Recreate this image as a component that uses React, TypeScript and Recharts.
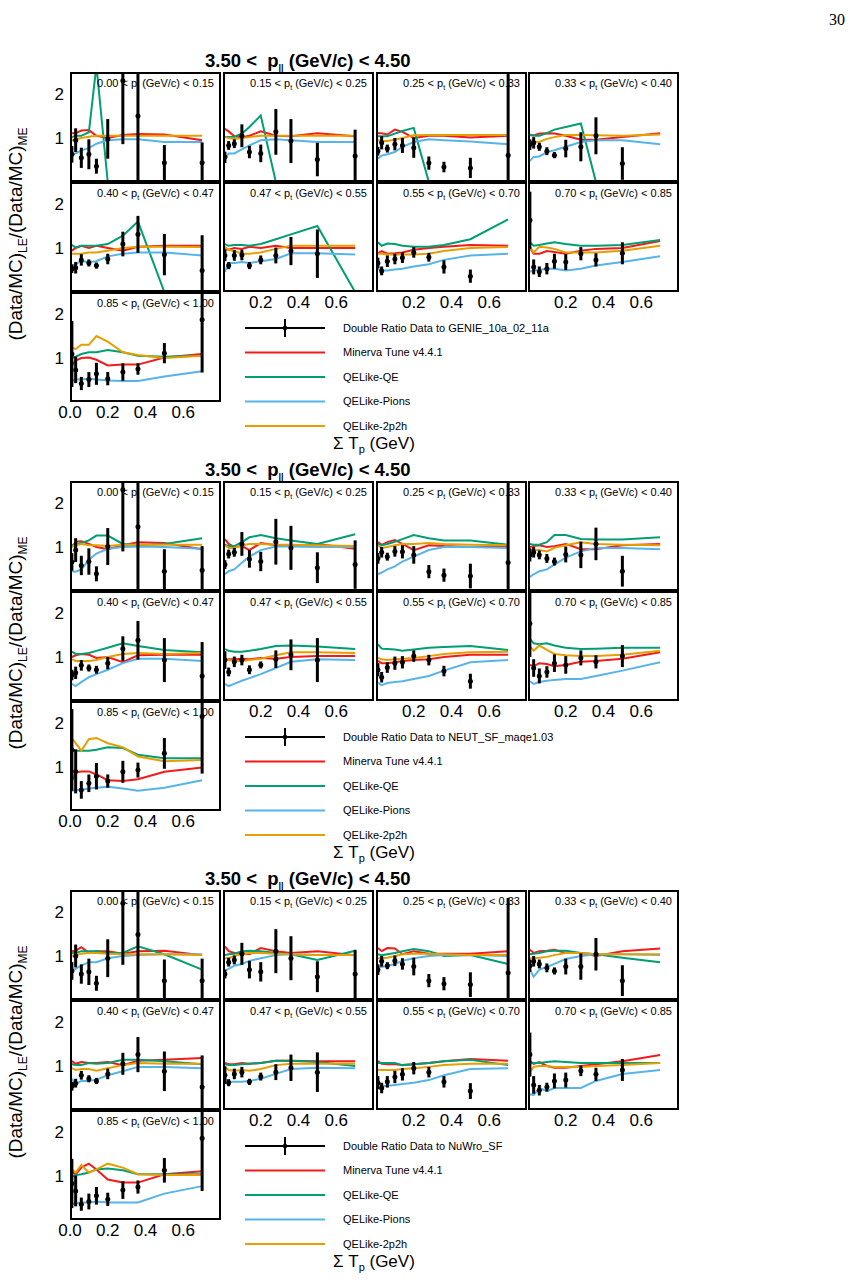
import { ComposedChart, Line, Scatter, ErrorBar, XAxis, YAxis } from 'recharts';

// bin centres in sum of proton kinetic energy (GeV)
const sumTp = [0.01, 0.03, 0.06, 0.1, 0.14, 0.2, 0.28, 0.36, 0.5, 0.7];
const ptEdges = ['0.00', '0.15', '0.25', '0.33', '0.40', '0.47', '0.55', '0.70', '0.85', '1.00'];
const generators = ['GENIE_10a_02_11a', 'NEUT_SF_maqe1.03', 'NuWro_SF'];
const modelNames = ['Minerva Tune v4.4.1', 'QELike-QE', 'QELike-Pions', 'QELike-2p2h'];
const yTickLabels = [1, 2];
const xTickLabels = [0.2, 0.4, 0.6];
const xTickLabelsFirst = [0, 0.2, 0.4, 0.6];
const xMinor = [0.1, 0.2, 0.3, 0.4, 0.5, 0.6, 0.7];
const yMinor = [0.5, 1, 1.5, 2];

// ---- GENIE_10a_02_11a ----
const genieRatio = [
  [0.63, 0.95, 0.55, 0.63, 0.36, 0.98, 2.3, 1.5, 0.44, 0.44],
  [0.56, 0.83, 0.87, 1.05, 0.68, 0.65, 1.14, 0.93, 0.51, 0.59],
  [0.7, 0.89, 0.76, 0.86, 0.83, 0.78, 0.43, 0.34, 0.32, 0.61],
  [0.85, 0.89, 0.8, 0.7, 0.61, 0.76, 0.8, 1.05, 0.42, null],
  [0.53, 0.55, 0.73, 0.66, 0.6, 0.75, 1.09, 1.31, 0.85, 0.49],
  [0.83, 0.6, 0.83, 0.84, 0.6, 0.73, 0.83, 0.93, 0.87, null],
  [0.66, 0.48, 0.7, 0.75, 0.78, 0.9, 0.79, 0.57, 0.36, null],
  [1.63, 0.57, 0.46, 0.53, 0.7, 0.68, 0.87, 0.73, 0.88, null],
  [1.09, 0.73, 0.42, 0.51, 0.64, 0.53, 0.68, 0.75, 1.11, 1.87],
];
const genieErr = [
  [0.19, 0.27, 0.23, 0.34, 0.17, 0.45, 1.44, 1.6, 0.4, 0.46],
  [0.13, 0.1, 0.1, 0.26, 0.14, 0.2, 0.52, 0.5, 0.38, 0.6],
  [0.1, 0.15, 0.09, 0.14, 0.17, 0.23, 0.15, 0.12, 0.23, 2.0],
  [0.12, 0.13, 0.09, 0.09, 0.07, 0.2, 0.33, 0.42, 0.37, null],
  [0.1, 0.13, 0.13, 0.08, 0.07, 0.12, 0.28, 0.42, 0.47, 0.8],
  [0.13, 0.08, 0.12, 0.12, 0.08, 0.1, 0.18, 0.32, 0.55, null],
  [0.12, 0.1, 0.13, 0.12, 0.12, 0.12, 0.1, 0.15, 0.15, null],
  [0.65, 0.17, 0.12, 0.13, 0.17, 0.18, 0.15, 0.15, 0.25, null],
  [0.75, 0.3, 0.15, 0.17, 0.25, 0.15, 0.2, 0.13, 0.23, 1.2],
];
const genieTune = [
  [1.11, 1.11, 1.17, 1.18, 1.05, 1.0, 1.07, 1.09, 1.08, 0.95],
  [1.21, 1.15, 1.04, 1.02, 1.05, 1.15, 1.05, 1.04, 1.11, 1.04],
  [1.11, 1.11, 1.08, 1.19, 1.14, 1.0, 1.05, 1.05, 1.01, 1.05],
  [1.06, 1.06, 1.1, 1.11, 1.1, 1.05, 0.96, 0.96, 1.02, 1.11],
  [0.94, 1.0, 1.05, 1.0, 1.05, 1.0, 0.94, 1.03, 1.05, 1.05],
  [0.98, 0.96, 1.0, 0.98, 1.03, 1.0, 1.05, 1.0, 1.0, 1.0],
  [0.88, 0.93, 0.87, 0.88, 0.9, 0.96, 1.0, 1.03, 1.07, 1.05],
  [1.01, 0.87, 0.87, 0.93, 0.91, 0.87, 0.94, 0.98, 1.0, 1.16],
  [0.83, 0.94, 1.0, 1.01, 0.96, 0.83, 0.85, 0.85, 1.01, 1.09],
];
const genieQE = [
  [1.02, 1.05, 1.05, 1.13, 2.65, 0, 0, 0, 0, 0],
  [1.02, 1.02, 1.03, 1.1, 1.25, 1.51, 0, 0, 0, 0],
  [1.04, 1.04, 1.04, 1.1, 1.16, 1.23, 0, 0, 0, 0],
  [1.08, 1.05, 1.05, 1.11, 1.19, 1.25, 1.33, 0, 0, 0],
  [1.07, 1.01, 1.05, 1.05, 1.05, 1.09, 1.28, 1.6, 0, 0],
  [1.09, 1.05, 1.07, 1.07, 1.05, 1.09, 1.2, 1.31, 1.5, 0],
  [1.13, 1.05, 1.1, 1.09, 1.05, 1.03, 1.03, 1.07, 1.2, 1.65],
  [1.13, 1.05, 1.07, 1.1, 1.13, 1.09, 1.05, 1.05, 1.07, 1.18],
  [1.01, 1.03, 1.09, 1.13, 1.13, 1.18, 1.13, 1.05, 1.03, 1.05],
];
const geniePions = [
  [0.61, 0.65, 0.72, 0.77, 0.87, 0.95, 0.97, 0.97, 0.91, 0.91],
  [0.53, 0.65, 0.65, 0.74, 0.83, 0.95, 0.97, 0.95, 0.91, 0.91],
  [0.53, 0.6, 0.63, 0.68, 0.8, 0.91, 0.97, 0.95, 0.92, 0.86],
  [0.48, 0.57, 0.58, 0.68, 0.72, 0.8, 0.91, 0.95, 0.95, 0.86],
  [0.57, 0.64, 0.7, 0.68, 0.7, 0.81, 0.87, 0.9, 0.9, 0.83],
  [0.46, 0.66, 0.66, 0.68, 0.66, 0.7, 0.75, 0.88, 0.88, 0.85],
  [0.53, 0.49, 0.49, 0.51, 0.53, 0.58, 0.63, 0.73, 0.83, 0.87],
  [0.46, 0.49, 0.5, 0.53, 0.53, 0.49, 0.53, 0.6, 0.68, 0.81],
  [0.49, 0.51, 0.51, 0.53, 0.51, 0.49, 0.48, 0.48, 0.58, 0.7],
];
const genie2p2h = [
  [0.95, 0.97, 1.0, 1.03, 1.05, 1.05, 1.05, 1.05, 1.05, 1.05],
  [1.02, 1.0, 0.98, 1.0, 1.02, 1.05, 1.05, 1.05, 1.05, 1.05],
  [0.95, 0.93, 0.93, 0.96, 1.0, 1.06, 1.07, 1.07, 1.07, 1.07],
  [0.91, 0.92, 0.91, 0.98, 1.02, 1.07, 1.07, 1.06, 1.05, 1.08],
  [0.87, 0.87, 0.87, 0.9, 0.9, 0.94, 1.0, 1.03, 1.03, 1.02],
  [1.03, 0.96, 0.93, 0.87, 0.87, 0.9, 0.98, 1.05, 1.05, 1.05],
  [0.87, 0.87, 0.85, 0.85, 0.85, 0.85, 0.87, 0.93, 1.0, 1.02],
  [1.03, 0.9, 1.03, 1.01, 0.98, 0.9, 0.9, 0.9, 0.94, 1.05],
  [1.24, 1.2, 1.3, 1.3, 1.5, 1.37, 1.13, 1.07, 1.0, 1.05],
];

// ---- NEUT_SF_maqe1.03 ----
const neutRatio = [
  [0.66, 0.93, 0.58, 0.67, 0.39, 1.01, 2.3, 1.46, 0.45, 0.47],
  [0.6, 0.84, 0.88, 1.07, 0.73, 0.67, 1.12, 0.98, 0.53, 0.6],
  [0.74, 0.88, 0.78, 0.9, 0.89, 0.82, 0.44, 0.36, 0.34, 0.65],
  [0.82, 0.88, 0.82, 0.74, 0.67, 0.83, 0.82, 1.07, 0.45, null],
  [0.59, 0.64, 0.81, 0.75, 0.71, 0.86, 1.19, 1.38, 0.93, 0.57],
  [0.93, 0.66, 0.89, 0.93, 0.71, 0.82, 0.95, 1.05, 0.93, null],
  [0.71, 0.54, 0.76, 0.86, 0.88, 1.02, 0.93, 0.68, 0.45, null],
  [1.76, 0.75, 0.57, 0.66, 0.86, 0.82, 0.98, 0.89, 1.02, null],
  [1.39, 0.9, 0.48, 0.63, 0.79, 0.68, 0.89, 0.93, 1.31, 2.15],
];
const neutErr = [
  [0.2, 0.27, 0.22, 0.3, 0.17, 0.42, 1.4, 1.6, 0.5, 0.55],
  [0.1, 0.1, 0.1, 0.27, 0.2, 0.22, 0.52, 0.5, 0.35, 0.55],
  [0.12, 0.12, 0.09, 0.12, 0.15, 0.2, 0.15, 0.15, 0.28, 1.9],
  [0.15, 0.12, 0.1, 0.1, 0.09, 0.18, 0.3, 0.37, 0.35, null],
  [0.12, 0.14, 0.12, 0.08, 0.09, 0.14, 0.28, 0.44, 0.5, 0.77],
  [0.2, 0.1, 0.12, 0.12, 0.1, 0.08, 0.2, 0.35, 0.5, null],
  [0.15, 0.12, 0.12, 0.15, 0.14, 0.13, 0.12, 0.12, 0.17, null],
  [0.76, 0.2, 0.17, 0.13, 0.2, 0.2, 0.17, 0.15, 0.25, null],
  [0.93, 0.5, 0.2, 0.2, 0.3, 0.15, 0.25, 0.17, 0.35, 1.3],
];
const neutTune = [
  [1.0, 1.12, 1.13, 1.07, 1.0, 0.95, 1.04, 1.11, 1.09, 0.95],
  [1.18, 1.07, 1.0, 1.02, 0.93, 1.09, 1.04, 1.02, 1.07, 0.96],
  [1.11, 1.05, 1.11, 1.16, 1.07, 0.93, 1.04, 1.02, 1.0, 1.0],
  [1.0, 1.02, 1.04, 1.0, 1.02, 1.07, 0.95, 0.95, 1.04, 1.07],
  [1.0, 1.04, 1.07, 1.05, 0.98, 1.0, 0.88, 1.04, 1.05, 1.05],
  [0.93, 0.95, 0.95, 0.96, 0.95, 0.98, 0.96, 1.0, 1.02, 1.02],
  [0.91, 0.86, 0.86, 0.88, 0.91, 0.93, 0.95, 1.0, 1.05, 1.05],
  [0.82, 0.79, 0.86, 0.84, 0.79, 0.82, 0.89, 0.91, 0.96, 1.11],
  [0.68, 0.88, 0.9, 0.9, 0.83, 0.7, 0.68, 0.72, 0.89, 0.99],
];
const neutQE = [
  [1.04, 1.05, 1.09, 1.15, 1.26, 1.26, 1.07, 1.04, 1.07, 1.2],
  [1.05, 1.02, 1.02, 1.11, 1.22, 1.27, 1.2, 1.15, 1.07, 1.29],
  [1.07, 1.04, 1.07, 1.12, 1.18, 1.27, 1.2, 1.15, 1.15, 1.05],
  [1.07, 1.05, 1.05, 1.11, 1.27, 1.27, 1.18, 1.17, 1.17, 1.22],
  [1.12, 1.07, 1.07, 1.09, 1.14, 1.21, 1.31, 1.25, 1.16, 1.11],
  [1.18, 1.14, 1.12, 1.12, 1.14, 1.18, 1.25, 1.26, 1.24, 1.18],
  [1.29, 1.19, 1.18, 1.17, 1.14, 1.17, 1.21, 1.23, 1.25, 1.16],
  [1.41, 1.31, 1.29, 1.31, 1.26, 1.21, 1.18, 1.19, 1.21, 1.21],
  [1.39, 1.37, 1.37, 1.37, 1.39, 1.45, 1.43, 1.28, 1.2, 1.2],
];
const neutPions = [
  [0.45, 0.44, 0.49, 0.71, 0.85, 0.96, 1.0, 1.01, 1.0, 0.96],
  [0.38, 0.45, 0.49, 0.64, 0.78, 0.93, 1.01, 1.01, 1.0, 1.0],
  [0.38, 0.42, 0.49, 0.56, 0.67, 0.78, 0.93, 1.0, 1.0, 0.98],
  [0.32, 0.38, 0.45, 0.49, 0.6, 0.76, 0.9, 0.98, 0.98, 0.95],
  [0.39, 0.34, 0.43, 0.54, 0.61, 0.71, 0.86, 0.96, 0.96, 0.91],
  [0.39, 0.34, 0.39, 0.46, 0.52, 0.61, 0.75, 0.89, 0.95, 0.93],
  [0.41, 0.36, 0.41, 0.43, 0.45, 0.5, 0.57, 0.69, 0.88, 0.93],
  [0.45, 0.39, 0.43, 0.46, 0.48, 0.5, 0.5, 0.57, 0.69, 0.88],
  [0.46, 0.48, 0.48, 0.51, 0.53, 0.55, 0.51, 0.46, 0.53, 0.7],
];
const neut2p2h = [
  [1.0, 1.04, 1.07, 1.04, 1.04, 1.02, 1.05, 1.05, 1.05, 1.05],
  [1.04, 0.98, 0.98, 1.04, 1.07, 1.07, 1.05, 1.05, 1.04, 1.02],
  [1.04, 0.98, 1.0, 1.04, 1.07, 1.07, 1.09, 1.07, 1.05, 1.04],
  [0.93, 0.93, 0.93, 0.9, 0.98, 1.04, 1.11, 1.07, 1.05, 1.04],
  [0.95, 0.91, 0.91, 0.91, 0.93, 1.0, 1.07, 1.09, 1.07, 1.09],
  [0.98, 0.93, 0.91, 0.91, 0.93, 0.96, 1.04, 1.11, 1.11, 1.09],
  [0.98, 0.95, 0.93, 0.95, 0.96, 0.98, 1.02, 1.07, 1.11, 1.12],
  [1.25, 1.14, 1.26, 1.16, 1.07, 1.04, 1.02, 1.02, 1.05, 1.14],
  [1.65, 1.54, 1.37, 1.63, 1.66, 1.54, 1.45, 1.24, 1.13, 1.16],
];

// ---- NuWro_SF ----
const nuwroRatio = [
  [0.66, 1.0, 0.59, 0.64, 0.38, 0.95, 2.2, 1.49, 0.44, 0.44],
  [0.59, 0.86, 0.91, 1.05, 0.69, 0.64, 1.11, 0.95, 0.53, 0.59],
  [0.69, 0.88, 0.78, 0.89, 0.82, 0.76, 0.44, 0.37, 0.35, 0.62],
  [0.78, 0.88, 0.82, 0.73, 0.66, 0.76, 0.76, 1.04, 0.44, null],
  [0.54, 0.61, 0.79, 0.71, 0.66, 0.82, 1.05, 1.26, 0.88, 0.52],
  [0.79, 0.62, 0.82, 0.86, 0.64, 0.76, 0.86, 0.96, 0.86, null],
  [0.62, 0.5, 0.64, 0.75, 0.81, 0.95, 0.86, 0.64, 0.43, null],
  [1.26, 0.57, 0.45, 0.52, 0.66, 0.68, 0.89, 0.81, 0.91, null],
  [0.83, 0.66, 0.36, 0.42, 0.55, 0.47, 0.68, 0.75, 1.13, 1.86],
];
const nuwroErr = [
  [0.2, 0.26, 0.22, 0.3, 0.17, 0.43, 1.4, 1.6, 0.48, 0.5],
  [0.1, 0.1, 0.1, 0.25, 0.2, 0.22, 0.5, 0.5, 0.35, 0.55],
  [0.12, 0.12, 0.08, 0.12, 0.13, 0.2, 0.15, 0.15, 0.28, 1.7],
  [0.14, 0.12, 0.1, 0.1, 0.08, 0.18, 0.3, 0.37, 0.35, null],
  [0.1, 0.1, 0.1, 0.08, 0.07, 0.12, 0.25, 0.4, 0.45, 0.72],
  [0.2, 0.08, 0.12, 0.12, 0.07, 0.09, 0.18, 0.3, 0.45, null],
  [0.15, 0.12, 0.13, 0.14, 0.14, 0.14, 0.12, 0.13, 0.18, null],
  [0.5, 0.2, 0.12, 0.1, 0.17, 0.17, 0.12, 0.15, 0.25, null],
  [0.56, 0.35, 0.15, 0.18, 0.2, 0.15, 0.2, 0.15, 0.28, 1.2],
];
const nuwroTune = [
  [1.11, 1.12, 1.2, 1.07, 1.11, 1.11, 1.05, 1.11, 1.12, 1.02],
  [1.22, 1.11, 1.07, 1.07, 1.04, 1.18, 1.11, 1.07, 1.11, 1.02],
  [1.18, 1.11, 1.18, 1.17, 1.04, 1.11, 1.05, 1.05, 1.05, 1.11],
  [1.14, 1.07, 1.11, 1.12, 1.14, 1.07, 1.07, 1.0, 1.11, 1.17],
  [1.11, 1.05, 1.09, 1.07, 1.07, 1.09, 1.02, 1.12, 1.14, 1.18],
  [1.07, 1.04, 1.04, 1.07, 1.05, 1.07, 1.12, 1.12, 1.11, 1.11],
  [1.11, 1.05, 1.04, 1.04, 1.02, 1.04, 1.07, 1.11, 1.16, 1.12],
  [1.11, 1.05, 1.09, 1.0, 0.96, 0.96, 1.0, 1.04, 1.11, 1.25],
  [1.11, 1.04, 1.19, 1.28, 1.15, 0.92, 0.85, 0.85, 1.04, 1.11],
];
const nuwroQE = [
  [1.07, 1.07, 1.11, 1.11, 1.11, 1.07, 1.07, 1.22, 1.04, 0.69],
  [1.02, 1.04, 1.05, 1.11, 1.12, 1.11, 1.07, 1.04, 0.91, 1.12],
  [1.04, 1.02, 1.04, 1.07, 1.11, 1.16, 1.11, 1.0, 1.02, 0.82],
  [1.04, 1.05, 1.07, 1.11, 1.12, 1.12, 1.07, 1.04, 0.96, 0.86],
  [1.04, 1.02, 1.02, 1.07, 1.05, 1.07, 1.14, 1.14, 1.11, 1.04],
  [1.04, 1.02, 1.02, 1.04, 1.05, 1.07, 1.12, 1.12, 1.09, 1.0],
  [1.07, 1.07, 1.07, 1.07, 1.02, 1.04, 1.07, 1.11, 1.14, 1.02],
  [1.07, 1.07, 1.07, 1.09, 1.11, 1.09, 1.07, 1.07, 1.07, 1.07],
  [0.98, 1.02, 1.04, 1.08, 1.15, 1.17, 1.13, 1.04, 1.04, 1.04],
];
const nuwroPions = [
  [0.67, 0.71, 0.78, 0.86, 0.86, 0.95, 1.0, 1.02, 1.04, 1.04],
  [0.66, 0.71, 0.78, 0.82, 0.89, 0.95, 1.02, 1.04, 1.02, 1.02],
  [0.76, 0.75, 0.78, 0.82, 0.89, 0.95, 1.0, 1.02, 1.02, 1.0],
  [0.69, 0.53, 0.69, 0.75, 0.82, 0.93, 1.0, 1.04, 1.04, 1.02],
  [0.71, 0.59, 0.66, 0.66, 0.69, 0.79, 0.88, 0.98, 0.98, 0.95],
  [0.71, 0.64, 0.64, 0.64, 0.66, 0.71, 0.82, 0.93, 0.96, 0.95],
  [0.66, 0.54, 0.55, 0.57, 0.59, 0.62, 0.68, 0.79, 0.93, 0.95],
  [0.36, 0.34, 0.5, 0.43, 0.5, 0.5, 0.5, 0.66, 0.82, 0.91],
  [0.36, 0.38, 0.4, 0.4, 0.42, 0.4, 0.4, 0.4, 0.6, 0.77],
];
const nuwro2p2h = [
  [1.0, 1.02, 1.05, 1.07, 1.07, 1.05, 1.04, 1.04, 1.04, 1.02],
  [0.95, 0.95, 1.0, 1.05, 1.07, 1.07, 1.05, 1.04, 1.02, 1.02],
  [0.95, 0.95, 0.96, 1.0, 1.04, 1.05, 1.05, 1.04, 1.02, 1.02],
  [0.95, 0.95, 0.96, 0.98, 1.02, 1.07, 1.07, 1.04, 1.04, 1.04],
  [0.95, 0.91, 0.93, 0.93, 0.89, 0.95, 1.02, 1.07, 1.05, 1.05],
  [0.98, 0.91, 0.89, 0.91, 0.89, 0.93, 1.02, 1.05, 1.05, 1.05],
  [0.91, 0.91, 0.91, 0.91, 0.93, 0.95, 0.98, 1.02, 1.05, 1.05],
  [0.86, 0.98, 1.0, 1.0, 0.98, 0.98, 0.98, 1.0, 1.02, 1.07],
  [1.15, 1.08, 1.25, 1.08, 1.15, 1.28, 1.19, 1.04, 1.02, 1.02],
];

const blocks = [
  { ratio: genieRatio, err: genieErr, tune: genieTune, qe: genieQE, pions: geniePions, np: genie2p2h },
  { ratio: neutRatio, err: neutErr, tune: neutTune, qe: neutQE, pions: neutPions, np: neut2p2h },
  { ratio: nuwroRatio, err: nuwroErr, tune: nuwroTune, qe: nuwroQE, pions: nuwroPions, np: nuwro2p2h },
];

const RED = '#f51a1a';
const GREEN = '#009e73';
const BLUE = '#56b4e9';
const ORANGE = '#e69f00';
const modelColors = [RED, GREEN, BLUE, ORANGE];
const FONT = '"Liberation Sans", Arial, Helvetica, sans-serif';

const PW = 151;
const PH = 110;
const COLS = [70, 223, 376, 528];
const TOP0 = 72;
const BLOCK_STEP = 409;

const sub = (s: string, size = 7, drop = 3) => (
  <span style={{ fontSize: size, position: 'relative', top: drop, color: '#000' }}>{s}</span>
);

const dataDot = (props: any) => <circle cx={props.cx} cy={props.cy} r={2.5} fill="#000" />;

type PanelProps = {
  left: number;
  top: number;
  bin: number;
  ratio: (number | null)[];
  err: (number | null)[];
  tune: number[];
  qe: number[];
  pions: number[];
  np: number[];
  showY: boolean;
  xLabels?: number[];
};

function Panel({ left, top, bin, ratio, err, tune, qe, pions, np, showY, xLabels }: PanelProps) {
  const padL = showY ? 26 : 0;
  const padB = xLabels ? 26 : 0;
  const rows = sumTp.map((x, i) => ({ x, tune: tune[i], qe: qe[i], pions: pions[i], np: np[i] }));
  const pts = sumTp
    .map((x, i) => ({ x, y: ratio[i], err: err[i] }))
    .filter((p) => p.y != null);

  return (
    <>
      <div style={{ position: 'absolute', left: left - padL, top }}>
        <ComposedChart
          width={PW + padL}
          height={PH + padB}
          data={rows}
          margin={{ top: 0, right: 0, bottom: 0, left: 0 }}
        >
          <XAxis
            xAxisId="v"
            type="number"
            dataKey="x"
            domain={[0, 0.8]}
            allowDataOverflow
            ticks={xMinor}
            mirror
            height={0}
            tick={false}
            axisLine={false}
            tickSize={4}
            tickLine={{ stroke: '#000' }}
          />
          {xLabels && (
            <XAxis
              xAxisId="lab"
              type="number"
              dataKey="x"
              domain={[0, 0.8]}
              allowDataOverflow
              ticks={xLabels}
              interval={0}
              height={padB}
              tickLine={false}
              axisLine={false}
              tickSize={0}
              tickMargin={4}
              tickFormatter={(v: number) => v.toFixed(1)}
              tick={{ fontSize: 17, fill: '#000', fontFamily: FONT }}
            />
          )}
          <YAxis
            yAxisId="v"
            type="number"
            domain={[0, 2.5]}
            allowDataOverflow
            ticks={yMinor}
            mirror
            width={0}
            tick={false}
            axisLine={false}
            tickSize={5}
            tickLine={{ stroke: '#000' }}
          />
          {showY && (
            <YAxis
              yAxisId="lab"
              type="number"
              domain={[0, 2.5]}
              allowDataOverflow
              ticks={yTickLabels}
              interval={0}
              width={padL}
              tickLine={false}
              axisLine={false}
              tickSize={0}
              tickMargin={6}
              tick={{ fontSize: 17, fill: '#000', fontFamily: FONT }}
            />
          )}
          <Line xAxisId="v" yAxisId="v" dataKey="tune" stroke={RED} strokeWidth={2} dot={false} isAnimationActive={false} />
          <Line xAxisId="v" yAxisId="v" dataKey="qe" stroke={GREEN} strokeWidth={2} dot={false} isAnimationActive={false} />
          <Line xAxisId="v" yAxisId="v" dataKey="pions" stroke={BLUE} strokeWidth={2} dot={false} isAnimationActive={false} />
          <Line xAxisId="v" yAxisId="v" dataKey="np" stroke={ORANGE} strokeWidth={2} dot={false} isAnimationActive={false} />
          <Scatter xAxisId="v" yAxisId="v" data={pts} dataKey="y" shape={dataDot} isAnimationActive={false}>
            <ErrorBar dataKey="err" direction="y" width={0} stroke="#000" strokeWidth={3} />
          </Scatter>
        </ComposedChart>
      </div>
      <div
        style={{
          position: 'absolute',
          left,
          top,
          width: PW,
          height: PH,
          border: '2px solid #000',
          boxSizing: 'border-box',
          pointerEvents: 'none',
        }}
      />
      <div
        style={{
          position: 'absolute',
          left,
          top: top + 5,
          width: PW - 7,
          textAlign: 'right',
          fontSize: 11,
          lineHeight: '12px',
          whiteSpace: 'nowrap',
        }}
      >
        {ptEdges[bin]} &lt; p{sub('t')} (GeV/c) &lt; {ptEdges[bin + 1]}
      </div>
    </>
  );
}

function BlockLegend({ top, generator }: { top: number; generator: string }) {
  const step = 24.5;
  return (
    <svg style={{ position: 'absolute', left: 240, top: top - 12 }} width={340} height={125} fontFamily={FONT}>
      <line x1={5} x2={85} y1={12} y2={12} stroke="#000" strokeWidth={2} />
      <line x1={45} x2={45} y1={3} y2={21} stroke="#000" strokeWidth={2} />
      <circle cx={45} cy={12} r={2.3} fill="#000" />
      <text x={103} y={12} dy="0.35em" fontSize={11} fill="#000">
        Double Ratio Data to {generator}
      </text>
      {modelNames.map((name, i) => (
        <g key={name}>
          <line x1={5} x2={85} y1={12 + step * (i + 1)} y2={12 + step * (i + 1)} stroke={modelColors[i]} strokeWidth={2} />
          <text x={103} y={12 + step * (i + 1)} dy="0.35em" fontSize={11} fill="#000">
            {name}
          </text>
        </g>
      ))}
    </svg>
  );
}

function Block({ index }: { index: number }) {
  const b = blocks[index];
  const top0 = TOP0 + index * BLOCK_STEP;
  return (
    <>
      <div
        style={{
          position: 'absolute',
          left: 205,
          top: top0 - 22,
          fontSize: 18.5,
          fontWeight: 'bold',
          lineHeight: '21px',
          whiteSpace: 'pre',
        }}
      >
        {'3.50 <  p'}
        {sub('||', 9, 4)}
        {' (GeV/c) < 4.50'}
      </div>
      <div
        style={{
          position: 'absolute',
          left: 16 - 150,
          top: top0 + 162 - 12,
          width: 300,
          height: 24,
          lineHeight: '24px',
          fontSize: 19,
          textAlign: 'center',
          transform: 'rotate(-90deg)',
          whiteSpace: 'nowrap',
        }}
      >
        (Data/MC){sub('LE', 12, 5)}/(Data/MC){sub('ME', 12, 5)}
      </div>
      {b.ratio.map((_, k) => {
        const row = Math.floor(k / 4);
        const col = k % 4;
        const isLast = k === 8;
        const bottomRow = isLast || (row === 1 && col > 0);
        return (
          <Panel
            key={k}
            left={COLS[col]}
            top={top0 + row * PH}
            bin={k}
            ratio={b.ratio[k]}
            err={b.err[k]}
            tune={b.tune[k]}
            qe={b.qe[k]}
            pions={b.pions[k]}
            np={b.np[k]}
            showY={col === 0}
            xLabels={bottomRow ? (isLast ? xTickLabelsFirst : xTickLabels) : undefined}
          />
        );
      })}
      <BlockLegend top={top0 + 256} generator={generators[index]} />
      <div
        style={{
          position: 'absolute',
          left: 333,
          top: top0 + 362,
          fontSize: 17,
          lineHeight: '20px',
          whiteSpace: 'nowrap',
        }}
      >
        Σ T{sub('p', 11, 4)} (GeV)
      </div>
    </>
  );
}

export default function App() {
  return (
    <div
      style={{
        position: 'absolute',
        left: 0,
        top: 0,
        width: 858,
        height: 1280,
        background: '#fff',
        fontFamily: FONT,
        color: '#000',
      }}
    >
      <div
        style={{
          position: 'absolute',
          left: 829,
          top: 11,
          fontSize: 16,
          fontFamily: '"Liberation Serif", "DejaVu Serif", serif',
        }}
      >
        30
      </div>
      {blocks.map((_, i) => (
        <Block key={i} index={i} />
      ))}
    </div>
  );
}
